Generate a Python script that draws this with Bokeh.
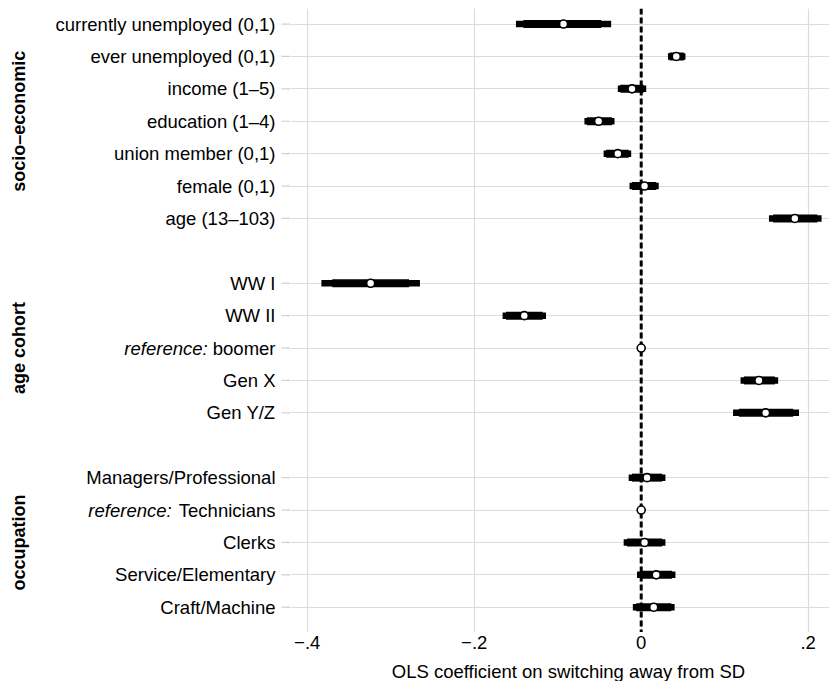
from math import pi
from bokeh.plotting import figure
from bokeh.layouts import row, column
from bokeh.models import Range1d, FixedTicker, ColumnDataSource, Spacer
from bokeh.core.properties import value
from bokeh.embed import file_html
from bokeh.resources import INLINE

# ---------------- data ----------------
group_names = ["socio–economic", "age cohort", "occupation"]
labels = ["currently unemployed (0,1)", "ever unemployed (0,1)", "income (1–5)",
          "education (1–4)", "union member (0,1)", "female (0,1)", "age (13–103)",
          "WW I", "WW II", "boomer", "Gen X", "Gen Y/Z",
          "Managers/Professional", "Technicians", "Clerks", "Service/Elementary", "Craft/Machine"]
is_reference = [False] * 9 + [True] + [False] * 3 + [True] + [False] * 3
group_of = [0] * 7 + [1] * 5 + [2] * 5
coef = [-0.093, 0.042, -0.011, -0.051, -0.028, 0.004, 0.184,
        -0.324, -0.140, 0.0, 0.141, 0.149,
        0.007, 0.0, 0.004, 0.018, 0.015]
lo95 = [-0.150, 0.032, -0.028, -0.068, -0.045, -0.014, 0.153,
        -0.383, -0.166, None, 0.119, 0.110,
        -0.015, None, -0.021, -0.005, -0.010]
hi95 = [-0.036, 0.053, 0.006, -0.032, -0.012, 0.021, 0.216,
        -0.265, -0.114, None, 0.164, 0.189,
        0.029, None, 0.029, 0.041, 0.040]
lo90 = [-0.141, 0.034, -0.025, -0.065, -0.042, -0.011, 0.158,
        -0.370, -0.162, None, 0.123, 0.117,
        -0.011, None, -0.017, -0.001, -0.006]
hi90 = [-0.048, 0.051, 0.003, -0.035, -0.015, 0.018, 0.211,
        -0.278, -0.118, None, 0.160, 0.182,
        0.025, None, 0.025, 0.037, 0.036]
x_ticks = [-0.4, -0.2, 0.0, 0.2]
x_tick_labels = ["−.4", "−.2", "0", ".2"]
x_title = "OLS coefficient on switching away from SD"

# ---------------- layout ----------------
pos = [i + g for i, g in enumerate(group_of)]
FONT = "Liberation Sans"
FS = "18.5px"
FS_PX = 18.5
W, H = 829, 681
LEFT_W = 290
MAIN_W = W - LEFT_W
PANEL_H = 632
STRIP_H = H - PANEL_H
TOP = 8

x_range = Range1d(-0.42, 0.2255)
y_range = Range1d(18.78, -0.48)


def base_fig(width, height, xr, yr, top=0):
    return figure(width=width, height=height, output_backend="svg", toolbar_location=None,
                  x_range=xr, y_range=yr, min_border=0,
                  min_border_left=0, min_border_right=0, min_border_top=top,
                  min_border_bottom=0, outline_line_color=None,
                  background_fill_color="white", border_fill_color="white")


# ---- main panel ----
p = base_fig(MAIN_W, PANEL_H, x_range, y_range, TOP)
p.axis.visible = False
p.xgrid.ticker = FixedTicker(ticks=x_ticks)
p.ygrid.ticker = FixedTicker(ticks=pos)
p.xgrid.grid_line_color = "#dcdcdc"
p.ygrid.grid_line_color = "#dcdcdc"
p.xgrid.grid_line_width = 1.2
p.ygrid.grid_line_width = 1.2

# zero reference line
p.segment(x0=[0], x1=[0], y0=[y_range.end], y1=[y_range.start], line_color="black",
          line_width=3, line_dash="6 3")

# confidence intervals
ci = [(pp, a, b, c, d) for pp, a, b, c, d in zip(pos, lo95, hi95, lo90, hi90) if a is not None]
src = ColumnDataSource(dict(y=[r[0] for r in ci], lo95=[r[1] for r in ci], hi95=[r[2] for r in ci],
                            lo90=[r[3] for r in ci], hi90=[r[4] for r in ci]))
p.segment(x0="lo95", x1="hi95", y0="y", y1="y", source=src, line_color="black",
          line_width=6.5, line_cap="butt")
p.segment(x0="lo90", x1="hi90", y0="y", y1="y", source=src, line_color="black",
          line_width=8, line_cap="butt")

# point estimates
p.scatter(x=coef, y=pos, size=8, marker="circle", fill_color="white",
          line_color="black", line_width=1.6)

# ---- left label panel (pixel x-range, shared y-range) ----
q = base_fig(LEFT_W, PANEL_H, Range1d(0, LEFT_W), y_range, TOP)
q.axis.visible = False
q.grid.visible = False

tick_len, standoff = 9, 6
q.segment(x0=[LEFT_W - tick_len] * len(pos), x1=[LEFT_W] * len(pos), y0=pos, y1=pos,
          line_color="#cfcfcf", line_width=1.2)
label_x = LEFT_W - tick_len - standoff
q.text(x=[label_x] * len(pos), y=pos, text=labels, text_align="right",
       text_baseline="middle", text_font=value(FONT), text_font_size=value(FS),
       text_color="black")

# italic "reference:" prefixes (Arial/Liberation advance widths, em units)
adv = {'b': .556, 'o': .556, 'm': .833, 'e': .556, 'r': .333, 'T': .611,
       'c': .5, 'h': .556, 'n': .556, 'i': .222, 'a': .556, 's': .5}
ref_y = [pp for pp, r in zip(pos, is_reference) if r]
ref_x = [label_x - (sum(adv.get(ch, .55) for ch in lab) + 0.278) * FS_PX
         for lab, r in zip(labels, is_reference) if r]
q.text(x=ref_x, y=ref_y, text=["reference:"] * len(ref_y), text_align="right",
       text_baseline="middle", text_font=value(FONT), text_font_size=value(FS),
       text_font_style="italic", text_color="black")

# group labels
g_y = []
for g in range(len(group_names)):
    ys = [pp for pp, gg in zip(pos, group_of) if gg == g]
    g_y.append((ys[0] + ys[-1]) / 2)
q.text(x=[18] * len(group_names), y=g_y, text=group_names, angle=pi / 2,
       text_align="center", text_baseline="middle", text_font=value(FONT),
       text_font_size=value("18px"), text_font_style="bold", text_color="black")

# ---- bottom strip: x axis (tick labels) on top, axis title below ----
s = figure(width=MAIN_W, height=STRIP_H, output_backend="svg", toolbar_location=None,
           x_range=x_range, y_range=Range1d(0, 1), min_border=0,
           min_border_left=0, min_border_right=0, min_border_top=0, min_border_bottom=0,
           outline_line_color=None, x_axis_location="above",
           background_fill_color="white", border_fill_color="white")
s.yaxis.visible = False
s.grid.visible = False
ax = s.xaxis[0]
ax.ticker = FixedTicker(ticks=x_ticks)
ax.major_label_overrides = {t: l for t, l in zip(x_ticks, x_tick_labels)}
ax.axis_line_color = None
ax.major_tick_line_color = None
ax.minor_tick_line_color = None
ax.major_tick_out = 0
ax.major_tick_in = 0
ax.major_label_standoff = 12
ax.major_label_text_font = FONT
ax.major_label_text_font_size = FS
ax.major_label_text_color = "black"

# centre the title under the (cropped) plot region
title_center_px = 278
title_x = x_range.start + title_center_px * (x_range.end - x_range.start) / MAIN_W
s.text(x=[title_x], y=[0.5], text=[x_title], text_align="center",
       text_baseline="middle", text_font=value(FONT), text_font_size=value(FS),
       text_color="black")

layout = column(row(q, p, spacing=0),
                row(Spacer(width=LEFT_W, height=STRIP_H), s, spacing=0),
                spacing=0)
open("out.html", "w").write(file_html(layout, INLINE))
